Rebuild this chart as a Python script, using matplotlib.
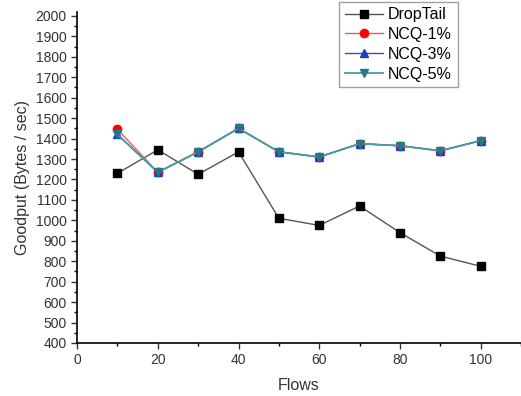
import matplotlib.pyplot as plt
from matplotlib.ticker import MultipleLocator

plt.rcParams['font.family'] = ['Liberation Sans', 'DejaVu Sans']

flows = [10, 20, 30, 40, 50, 60, 70, 80, 90, 100]
droptail = [1230, 1345, 1225, 1335, 1010, 975, 1070, 940, 825, 775]
ncq1 = [1445, 1235, 1335, 1450, 1335, 1310, 1375, 1365, 1340, 1390]
ncq3 = [1420, 1235, 1335, 1450, 1335, 1310, 1375, 1365, 1340, 1390]
ncq5 = [1420, 1235, 1335, 1450, 1335, 1310, 1375, 1365, 1340, 1390]

fig = plt.figure(figsize=(5.21, 3.96), dpi=100)
ax = fig.add_axes([0.148, 0.134, 0.852, 0.836])

ax.plot(flows, droptail, color='#555555', lw=1.0, marker='s', ms=6,
        mfc='black', mec='black', label='DropTail')
ax.plot(flows, ncq1, color='#e06060', lw=1.0, marker='o', ms=6,
        mfc='red', mec='red', label='NCQ-1%')
ax.plot(flows, ncq3, color='#4040e0', lw=1.0, marker='^', ms=6,
        mfc='#1a3fbf', mec='#1a3fbf', label='NCQ-3%')
ax.plot(flows, ncq5, color='#4a9e9e', lw=1.3, marker='v', ms=6,
        mfc='#1f7a8c', mec='#1f7a8c', label='NCQ-5%')

ax.set_xlim(0, 110)
ax.set_ylim(400, 2020)
ax.xaxis.set_major_locator(MultipleLocator(20))
ax.xaxis.set_minor_locator(MultipleLocator(10))
ax.yaxis.set_major_locator(MultipleLocator(100))
ax.yaxis.set_minor_locator(MultipleLocator(50))
ax.set_yticks(range(400, 2001, 100))
ax.tick_params(which='major', direction='out', length=4, width=1, labelsize=10, colors='#333333')
ax.tick_params(which='minor', direction='out', length=2, width=1)
ax.spines['top'].set_visible(False)
ax.spines['right'].set_visible(False)
ax.spines['left'].set_linewidth(1.2)
ax.spines['bottom'].set_linewidth(1.2)

ax.set_xlabel('Flows', fontsize=11.5, color='#333333', labelpad=8)
ax.set_ylabel('Goodput (Bytes / sec)', fontsize=11.5, color='#333333')

leg = ax.legend(loc='upper right', bbox_to_anchor=(0.875, 1.055), fontsize=11.5,
                fancybox=False, edgecolor='#888888', handlelength=2.4,
                borderpad=0.35, labelspacing=0.3, handletextpad=0.3)
leg.get_frame().set_linewidth(1.0)

fig.savefig('out.png', dpi=100)
